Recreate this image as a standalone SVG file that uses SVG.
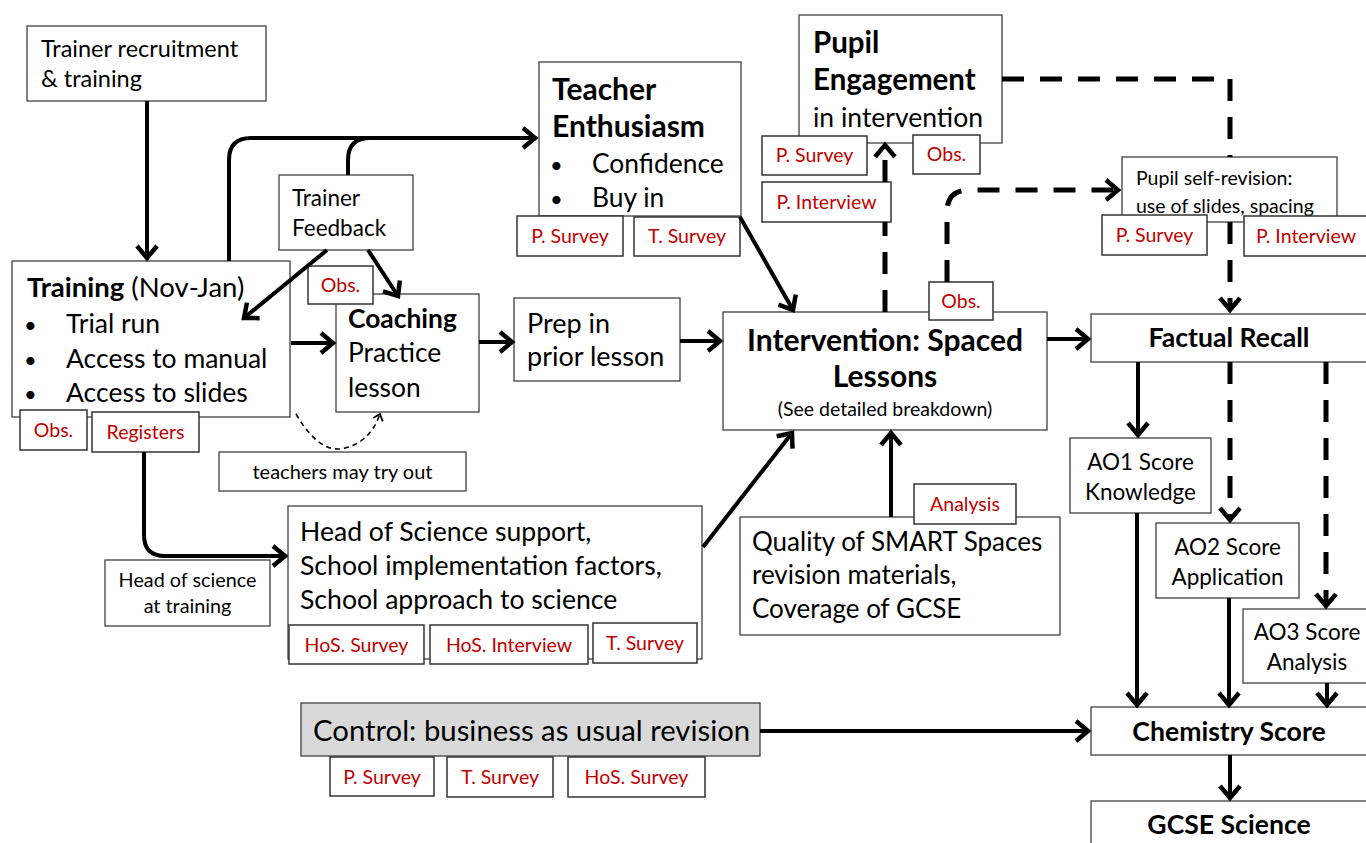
<svg xmlns="http://www.w3.org/2000/svg" width="1366" height="843" viewBox="0 0 1366 843">
<style>
.box{fill:#fff;stroke:#404040;stroke-width:1.3}
.lbl{fill:#fff;stroke:#333;stroke-width:1.5}
.ctl{fill:#d9d9d9;stroke:#404040;stroke-width:1.3}
text{font-family:Lato,"Open Sans","Liberation Sans",sans-serif;fill:#000}
.r{fill:#c00000;font-size:19.5px}
.b{font-weight:bold}
.c{stroke:#000;stroke-width:4;fill:none}
.d{stroke-dasharray:22 16;stroke-width:5}
.s{stroke:#000;stroke-width:1.6;fill:none;stroke-dasharray:5 4}
.m{text-anchor:middle}
</style>
<defs>
<marker id="a" markerUnits="userSpaceOnUse" markerWidth="24" markerHeight="24" refX="14" refY="12" orient="auto" overflow="visible">
<path d="M2,2 L14,12 L2,22" fill="none" stroke="#000" stroke-width="4.5" stroke-dasharray="none"/>
</marker>
<marker id="as" markerUnits="userSpaceOnUse" markerWidth="12" markerHeight="12" refX="7" refY="6" orient="auto" overflow="visible">
<path d="M1,1 L7,6 L1,11" fill="none" stroke="#000" stroke-width="1.8" stroke-dasharray="none"/>
</marker>
</defs>

<g id="nodes">
<g id="trainer-recruitment">
<rect class="box" x="27" y="26" width="239" height="75"/>
<text x="41" y="57" font-size="23.5">Trainer recruitment</text>
<text x="41" y="87" font-size="23.5">&amp; training</text>
</g>
<g id="training">
<rect class="box" x="12" y="261" width="278" height="156"/>
<text x="27" y="297" font-size="27.5"><tspan class="b">Training</tspan> (Nov-Jan)</text>
<text x="24" y="333" font-size="22">•</text>
<text x="66" y="333" font-size="26.5">Trial run</text>
<text x="24" y="368" font-size="22">•</text>
<text x="66" y="368" font-size="26.5">Access to manual</text>
<text x="24" y="402" font-size="22">•</text>
<text x="66" y="402" font-size="26.5">Access to slides</text>
<rect class="lbl" x="20" y="410" width="67" height="40"/>
<text class="r m" x="53.5" y="437">Obs.</text>
<rect class="lbl" x="92" y="412" width="107" height="40"/>
<text class="r m" x="145.5" y="439">Registers</text>
</g>
<g id="trainer-feedback">
<rect class="box" x="279" y="175" width="134" height="75"/>
<text x="292" y="206" font-size="22.5">Trainer</text>
<text x="292" y="236" font-size="22.5">Feedback</text>
</g>
<g id="coaching">
<rect class="box" x="336" y="294" width="143" height="118"/>
<text x="348" y="328" font-size="26.4" class="b">Coaching</text>
<text x="348" y="362" font-size="26.4">Practice</text>
<text x="348" y="397" font-size="26.4">lesson</text>
<rect class="lbl" x="308" y="266" width="65" height="38"/>
<text class="r m" x="340.5" y="292">Obs.</text>
</g>
<g id="try-out">
<rect class="box" x="219" y="452" width="247" height="39"/>
<text class="m" x="342.5" y="479" font-size="20">teachers may try out</text>
</g>
<g id="teacher-enthusiasm">
<rect class="box" x="539" y="62" width="202" height="154"/>
<text x="552" y="100" font-size="30" class="b">Teacher</text>
<text x="552" y="137" font-size="30" class="b">Enthusiasm</text>
<text x="550" y="173" font-size="22">•</text>
<text x="592" y="173" font-size="26.4">Confidence</text>
<text x="550" y="207" font-size="22">•</text>
<text x="592" y="207" font-size="26.4">Buy in</text>
<rect class="lbl" x="517" y="216" width="106" height="40"/>
<text class="r m" x="570" y="243">P. Survey</text>
<rect class="lbl" x="634" y="217" width="106" height="39"/>
<text class="r m" x="687" y="243">T. Survey</text>
</g>
<g id="pupil-engagement">
<rect class="box" x="799" y="15" width="203" height="128"/>
<text x="813" y="53" font-size="29.5" class="b">Pupil</text>
<text x="813" y="90" font-size="29.5" class="b">Engagement</text>
<text x="813" y="127" font-size="26.5">in intervention</text>
<rect class="lbl" x="762" y="136" width="105" height="39"/>
<text class="r m" x="814.5" y="162">P. Survey</text>
<rect class="lbl" x="913" y="135" width="67" height="39"/>
<text class="r m" x="946.5" y="161">Obs.</text>
<rect class="lbl" x="762" y="182" width="129" height="40"/>
<text class="r m" x="826.5" y="209">P. Interview</text>
</g>
<g id="self-revision">
<rect class="box" x="1122" y="157" width="215" height="65"/>
<text x="1136" y="185" font-size="19.5">Pupil self-revision:</text>
<text x="1136" y="213" font-size="19.5">use of slides, spacing</text>
<rect class="lbl" x="1102" y="215" width="105" height="40"/>
<text class="r m" x="1154.5" y="242">P. Survey</text>
<rect class="lbl" x="1244" y="216" width="124" height="40"/>
<text class="r m" x="1306" y="243">P. Interview</text>
</g>
<g id="prep">
<rect class="box" x="514" y="298" width="166" height="83"/>
<text x="527" y="333" font-size="27">Prep in</text>
<text x="527" y="366" font-size="27">prior lesson</text>
</g>
<g id="intervention">
<rect class="box" x="723" y="312" width="324" height="118"/>
<text class="m b" x="885" y="351" font-size="30">Intervention: Spaced</text>
<text class="m b" x="885" y="387" font-size="30">Lessons</text>
<text class="m" x="885" y="416" font-size="19.5">(See detailed breakdown)</text>
<rect class="lbl" x="929" y="282" width="64" height="38"/>
<text class="r m" x="961" y="308">Obs.</text>
</g>
<g id="factual-recall">
<rect class="box" x="1091" y="314" width="285" height="48"/>
<text class="m b" x="1229" y="347" font-size="26.6">Factual Recall</text>
</g>
<g id="ao1">
<rect class="box" x="1070" y="438" width="141" height="75"/>
<text class="m" x="1140.5" y="470" font-size="22.5">AO1 Score</text>
<text class="m" x="1140.5" y="500" font-size="22.5">Knowledge</text>
</g>
<g id="ao2">
<rect class="box" x="1156" y="523" width="143" height="75"/>
<text class="m" x="1227.5" y="555" font-size="22.5">AO2 Score</text>
<text class="m" x="1227.5" y="585" font-size="22.5">Application</text>
</g>
<g id="ao3">
<rect class="box" x="1243" y="609" width="133" height="74"/>
<text class="m" x="1307" y="640" font-size="22.5">AO3 Score</text>
<text class="m" x="1307" y="670" font-size="22.5">Analysis</text>
</g>
<g id="chemistry">
<rect class="box" x="1091" y="707" width="285" height="48"/>
<text class="m b" x="1229" y="741" font-size="26.6">Chemistry Score</text>
</g>
<g id="gcse">
<rect class="box" x="1091" y="801" width="285" height="60"/>
<text class="m b" x="1229" y="834" font-size="26.6">GCSE Science</text>
</g>
<g id="quality">
<rect class="box" x="740" y="517" width="320" height="118"/>
<text x="752" y="551" font-size="26">Quality of SMART Spaces</text>
<text x="752" y="584" font-size="26">revision materials,</text>
<text x="752" y="618" font-size="26">Coverage of GCSE</text>
<rect class="lbl" x="914" y="484" width="102" height="40"/>
<text class="r m" x="965" y="511">Analysis</text>
</g>
<g id="hos">
<rect class="box" x="288" y="506" width="414" height="153"/>
<text x="300" y="541" font-size="26.6">Head of Science support,</text>
<text x="300" y="575" font-size="26.6">School implementation factors,</text>
<text x="300" y="609" font-size="26.6">School approach to science</text>
<rect class="lbl" x="289" y="625" width="135" height="39"/>
<text class="r m" x="356.5" y="652">HoS. Survey</text>
<rect class="lbl" x="430" y="625" width="158" height="39"/>
<text class="r m" x="509" y="652">HoS. Interview</text>
<rect class="lbl" x="593" y="623" width="104" height="40"/>
<text class="r m" x="645" y="650">T. Survey</text>
</g>
<g id="hos-training">
<rect class="box" x="105" y="560" width="165" height="66"/>
<text class="m" x="187.5" y="587" font-size="19.8">Head of science</text>
<text class="m" x="187.5" y="613" font-size="19.8">at training</text>
</g>
<g id="control">
<rect class="ctl" x="301" y="703" width="459" height="53"/>
<text x="313" y="741" font-size="29.3">Control: business as usual revision</text>
<rect class="lbl" x="330" y="757" width="104" height="39"/>
<text class="r m" x="382" y="784">P. Survey</text>
<rect class="lbl" x="447" y="757" width="106" height="40"/>
<text class="r m" x="500" y="784">T. Survey</text>
<rect class="lbl" x="568" y="757" width="137" height="40"/>
<text class="r m" x="636.5" y="784">HoS. Survey</text>
</g>
</g>

<g id="connectors">
<path class="c" d="M147,101 V258" marker-end="url(#a)"/>
<path class="c" d="M229,261 V160 Q229,138 251,138 H535" marker-end="url(#a)"/>
<path class="c" d="M348,175 V160 Q348,138 370,138"/>
<path class="c" d="M327,250 L244,318" marker-end="url(#a)"/>
<path class="c" d="M368,250 L398,296" marker-end="url(#a)"/>
<path class="c" d="M291,343 H333" marker-end="url(#a)"/>
<path class="c" d="M479,342 H512" marker-end="url(#a)"/>
<path class="c" d="M680,341 H720" marker-end="url(#a)"/>
<path class="c" d="M740,217 L793,310" marker-end="url(#a)"/>
<path class="c" d="M1047,339 H1088" marker-end="url(#a)"/>
<path class="c" d="M144,452 V535 Q144,556 165,556 H285" marker-end="url(#a)"/>
<path class="c" d="M703,547 L792,433" marker-end="url(#a)"/>
<path class="c" d="M891,517 V433" marker-end="url(#a)"/>
<path class="c" d="M1138,362 V435" marker-end="url(#a)"/>
<path class="c" d="M1137,513 V705" marker-end="url(#a)"/>
<path class="c" d="M1229,598 V705" marker-end="url(#a)"/>
<path class="c" d="M1327,683 V705" marker-end="url(#a)"/>
<path class="c" d="M760,731 H1088" marker-end="url(#a)"/>
<path class="c" d="M1230,755 V798" marker-end="url(#a)"/>
<path class="c d" d="M1230,362 V520" marker-end="url(#a)"/>
<path class="c d" d="M1326,362 V606" marker-end="url(#a)"/>
<path class="c d" d="M1002,79 H1230 V157 M1230,222 V310" marker-end="url(#a)"/>
<path class="c d" d="M885,312 V222 M885,182 V145" marker-end="url(#a)"/>
<path class="c d" d="M947,282 V212 Q947,190 969,190 H1118" marker-end="url(#a)"/>
<path class="s" d="M296,414 Q320,455 345,448 Q370,442 380,414" marker-end="url(#as)"/>
</g>
</svg>
